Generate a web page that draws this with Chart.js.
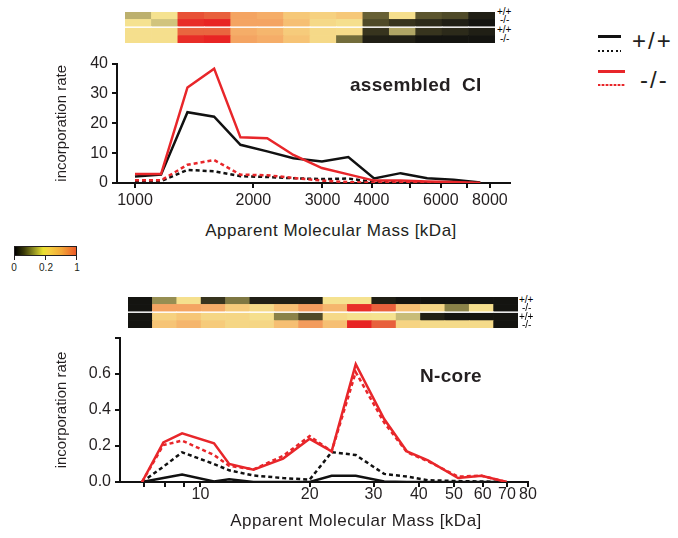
<!DOCTYPE html>
<html lang="en">
<head>
    <meta charset="UTF-8">
    <title>Incorporation rate</title>
    <script src="https://cdn.jsdelivr.net/npm/chart.js"></script>
    <style>
        body {
            margin: 0;
            background: #fff;
            font-family: "Liberation Sans", Arial, sans-serif;
            color: #231f20;
        }
        #page { position: relative; width: 678px; height: 538px; overflow: hidden; }
        canvas, .abs { position: absolute; }
        .xtitle {
            font-size: 17px;
            letter-spacing: 0.5px;
            white-space: nowrap;
            transform: translate(-50%, -50%);
        }
        .panel { font-weight: bold; font-size: 19px; white-space: pre; letter-spacing: 0.3px; }
        .rowlab { font-size: 10px; line-height: 1; color: #000; }
        .leg { font-size: 24px; letter-spacing: 2px; }
        .solid { height: 3px; }
        .dots { height: 2px; }
        .cb { font-size: 10px; transform: translateX(-50%); }
        .cbtick { width: 1px; height: 4px; background: #231f20; }
    </style>
</head>
<body>
<div id="page">
    <canvas id="heatTop" width="370" height="31" style="left:125px; top:12px;"></canvas>
    <canvas id="lineTop" width="530" height="160" style="left:0; top:50px;"></canvas>
    <canvas id="heatBot" width="390" height="31" style="left:128px; top:297px;"></canvas>
    <canvas id="lineBot" width="545" height="200" style="left:0; top:320px;"></canvas>

    <!-- heatmap row labels -->
    <div class="abs rowlab" style="left:497px; top:7px;">+/+</div>
    <div class="abs rowlab" style="left:500px; top:15px;">-/-</div>
    <div class="abs rowlab" style="left:497px; top:25px;">+/+</div>
    <div class="abs rowlab" style="left:500px; top:34px;">-/-</div>
    <div class="abs rowlab" style="left:519px; top:295px;">+/+</div>
    <div class="abs rowlab" style="left:522px; top:303px;">-/-</div>
    <div class="abs rowlab" style="left:519px; top:312px;">+/+</div>
    <div class="abs rowlab" style="left:522px; top:320px;">-/-</div>

    <!-- panel labels and axis titles -->
    <div class="abs panel" style="left:350px; top:74px;">assembled  CI</div>
    <div class="abs panel" style="left:420px; top:365px;">N-core</div>
    <div class="abs xtitle" style="left:331px; top:231px;">Apparent Molecular Mass [kDa]</div>
    <div class="abs xtitle" style="left:356px; top:521px;">Apparent Molecular Mass [kDa]</div>

    <!-- colour bar -->
    <div class="abs" style="left:14px; top:246px; width:63px; height:10px; border:1px solid #231f20; box-sizing:border-box;
        background:linear-gradient(to right, #000 0%, #3a3a08 15%, #8a8a20 30%, #e8e030 46%, #f5d040 56%, #f2a838 76%, #ec5a28 100%);"></div>
    <div class="abs cbtick" style="left:14px; top:256px;"></div>
    <div class="abs cbtick" style="left:45px; top:256px;"></div>
    <div class="abs cbtick" style="left:76px; top:256px;"></div>
    <div class="abs cb" style="left:14px; top:262px;">0</div>
    <div class="abs cb" style="left:46px; top:262px;">0.2</div>
    <div class="abs cb" style="left:77px; top:262px;">1</div>

    <!-- legend -->
    <div class="abs solid" style="left:598px; top:35px; width:23px; background:#111;"></div>
    <div class="abs dots" style="left:598px; top:50px; width:23px; background:repeating-linear-gradient(90deg, #111 0 2px, transparent 2px 4.5px);"></div>
    <div class="abs leg" style="left:632px; top:27px;">+/+</div>
    <div class="abs solid" style="left:598px; top:70px; width:27px; background:#e8262a;"></div>
    <div class="abs dots" style="left:598px; top:84px; width:27px; background:repeating-linear-gradient(90deg, #e8262a 0 2.5px, #f6b0b0 2.5px 4px);"></div>
    <div class="abs leg" style="left:640px; top:66px;">-/-</div>
</div>

<script>
    // assembled CI panel (apparent mass in kDa, one point per gel slice)
    const topMass = [1000, 1165, 1360, 1590, 1855, 2170, 2530, 2990, 3490, 4060, 4740, 5540, 6470, 7560];
    const topWtSolid = [2.2, 2.8, 23.7, 22.2, 12.8, 10.6, 8.3, 7.2, 8.7, 1.5, 3.3, 1.6, 1.1, 0.2];
    const topWtDotted = [0.3, 0.6, 4.4, 3.9, 2.3, 2.0, 1.6, 1.3, 1.5, 0.3, 0.2, 0.1, 0.1, 0];
    const topKoSolid = [3.0, 3.0, 32.0, 38.3, 15.3, 15.0, 9.4, 5.0, 2.9, 0.8, 0.8, 0.5, 0.3, 0];
    const topKoDotted = [0.9, 0.9, 6.1, 7.7, 2.8, 2.6, 1.7, 0.8, 0.3, 0.1, 0.1, 0, 0, 0];
    const topTicks = [1000, 2000, 3000, 4000, 5000, 6000, 7000, 8000];
    const topTickLabels = [1000, 2000, 3000, 4000, 6000, 8000];

    // N-core panel
    const botMass = [6.9, 7.9, 8.9, 10.9, 12.0, 14.0, 16.9, 20.0, 23.0, 26.8, 32.1, 37.1, 42.4, 51.3, 59.6, 69.9];
    const botWtSolid = [0, 0.022, 0.042, 0.003, 0.015, 0, 0, 0, 0.035, 0.035, 0.003, 0, 0, 0, 0, 0];
    const botWtDotted = [0, 0.085, 0.165, 0.10, 0.065, 0.036, 0.022, 0.013, 0.166, 0.15, 0.045, 0.03, 0.01, 0.005, 0.003, 0];
    const botKoSolid = [0, 0.22, 0.27, 0.215, 0.10, 0.068, 0.13, 0.24, 0.17, 0.655, 0.35, 0.17, 0.12, 0.022, 0.035, 0];
    const botKoDotted = [0, 0.205, 0.23, 0.15, 0.09, 0.07, 0.145, 0.255, 0.17, 0.61, 0.33, 0.165, 0.115, 0.03, 0.035, 0];
    const botTicks = [7, 8, 9, 10, 20, 30, 40, 50, 60, 70, 80];
    const botTickLabels = [10, 20, 30, 40, 50, 60, 70, 80];

    // heatmap strips (relative incorporation, 0..1), rows top to bottom: +/+, -/-, +/+, -/-
    const topHeatWtA = [0.14, 0.2, 0.85, 0.8, 0.55, 0.5, 0.35, 0.3, 0.35, 0.07, 0.22, 0.06, 0.05, 0.01];
    const topHeatKoA = [0.2, 0.16, 0.97, 1.0, 0.55, 0.55, 0.4, 0.25, 0.22, 0.05, 0.03, 0.02, 0.01, 0];
    const topHeatWtB = [0.22, 0.22, 0.78, 0.78, 0.5, 0.45, 0.33, 0.25, 0.24, 0.03, 0.13, 0.03, 0.02, 0.01];
    const topHeatKoB = [0.22, 0.22, 0.97, 1.0, 0.55, 0.5, 0.38, 0.25, 0.08, 0.01, 0.01, 0, 0, 0];

    const botHeatWtA = [0, 0.11, 0.21, 0.03, 0.09, 0.01, 0.01, 0.01, 0.2, 0.2, 0.01, 0, 0, 0, 0, 0];
    const botHeatKoA = [0, 0.55, 0.55, 0.5, 0.33, 0.25, 0.4, 0.58, 0.45, 0.97, 0.8, 0.4, 0.27, 0.1, 0.22, 0];
    const botHeatWtB = [0, 0.3, 0.36, 0.27, 0.27, 0.22, 0.1, 0.05, 0.25, 0.21, 0.2, 0.15, 0.01, 0, 0, 0];
    const botHeatKoB = [0, 0.37, 0.45, 0.33, 0.27, 0.27, 0.4, 0.58, 0.4, 1.0, 0.8, 0.28, 0.24, 0.24, 0.24, 0];

    const RED = '#e8262a';
    const BLACK = '#111111';
    const INK = '#231f20';
    const FONT = '"Liberation Sans", Arial, sans-serif';

    // colour map used for the strips
    const cmap = [
        [0, '#141410'], [0.05, '#4f4a28'], [0.1, '#8a8248'], [0.15, '#c8bc78'],
        [0.2, '#f5e290'], [0.35, '#f6c878'], [0.55, '#f4a462'], [0.8, '#e8603c'], [1, '#e82424']
    ];

    function hexToRgb(h) {
        return [1, 3, 5].map(i => parseInt(h.substr(i, 2), 16));
    }

    function colorFor(v) {
        for (let i = 1; i < cmap.length; i++) {
            if (v <= cmap[i][0]) {
                const [v0, c0] = cmap[i - 1];
                const [v1, c1] = cmap[i];
                const t = (v - v0) / (v1 - v0);
                const a = hexToRgb(c0), b = hexToRgb(c1);
                const rgb = a.map((x, k) => Math.round(x + (b[k] - x) * t));
                return 'rgb(' + rgb.join(',') + ')';
            }
        }
        return cmap[cmap.length - 1][1];
    }

    function heatmap(id, rows) {
        const labels = rows[0].map((_, i) => 'slice ' + (i + 1));
        const cell = (row) => ({
            data: row.map(() => 1),
            backgroundColor: row.map(colorFor),
            borderWidth: 0,
            barPercentage: 1,
            categoryPercentage: 1
        });
        // stacked from the bottom up, with a thin white gap between the two pairs
        const datasets = [
            cell(rows[3]),
            cell(rows[2]),
            { data: rows[0].map(() => 0.2), backgroundColor: '#ffffff', borderWidth: 0, barPercentage: 1, categoryPercentage: 1 },
            cell(rows[1]),
            cell(rows[0])
        ];
        new Chart(document.getElementById(id), {
            type: 'bar',
            data: { labels: labels, datasets: datasets },
            options: {
                responsive: false,
                animation: false,
                layout: { padding: 0 },
                plugins: { legend: { display: false }, tooltip: { enabled: false } },
                scales: {
                    x: { display: false, stacked: true },
                    y: { display: false, stacked: true, min: 0, max: 4.2 }
                }
            }
        });
    }

    function pairs(xs, ys) {
        return xs.map((x, i) => ({ x: x, y: ys[i] }));
    }

    function axisStyle() {
        return {
            grid: { drawOnChartArea: false, drawTicks: true, tickLength: 5, color: BLACK, lineWidth: 2 },
            border: { display: true, color: BLACK, width: 2 }
        };
    }

    function lineChart(id, opts) {
        const dash = [4, 3];
        new Chart(document.getElementById(id), {
            type: 'line',
            data: {
                datasets: [
                    { label: '-/-', data: pairs(opts.mass, opts.koSolid), borderColor: RED },
                    { label: '-/- dotted', data: pairs(opts.mass, opts.koDotted), borderColor: RED, borderDash: dash },
                    { label: '+/+', data: pairs(opts.mass, opts.wtSolid), borderColor: BLACK },
                    { label: '+/+ dotted', data: pairs(opts.mass, opts.wtDotted), borderColor: BLACK, borderDash: dash }
                ]
            },
            options: {
                responsive: false,
                animation: false,
                layout: { padding: opts.padding },
                elements: {
                    point: { radius: 0 },
                    line: { tension: 0, borderWidth: 2.5, fill: false }
                },
                plugins: { legend: { display: false }, tooltip: { enabled: false } },
                scales: {
                    x: {
                        type: 'logarithmic',
                        min: opts.xMin,
                        max: opts.xMax,
                        ...axisStyle(),
                        afterBuildTicks: s => { s.ticks = opts.ticks.map(v => ({ value: v })); },
                        afterFit: s => { s.height = opts.xHeight; },
                        ticks: {
                            autoSkip: false,
                            maxRotation: 0,
                            padding: opts.xPad,
                            color: INK,
                            font: { family: FONT, size: 16 },
                            callback: v => opts.tickLabels.includes(v) ? String(v) : ''
                        }
                    },
                    y: {
                        min: 0,
                        max: opts.yMax,
                        ...axisStyle(),
                        afterFit: s => { s.width = opts.yWidth; },
                        ticks: {
                            stepSize: opts.yStep,
                            padding: 4,
                            color: INK,
                            font: { family: FONT, size: 16 },
                            callback: opts.yFormat
                        },
                        title: {
                            display: true,
                            text: 'incorporation rate',
                            color: INK,
                            padding: { top: 9, bottom: 0 },
                            font: { family: FONT, size: 15 }
                        }
                    }
                }
            }
        });
    }

    heatmap('heatTop', [topHeatWtA, topHeatKoA, topHeatWtB, topHeatKoB]);
    heatmap('heatBot', [botHeatWtA, botHeatKoA, botHeatWtB, botHeatKoB]);

    lineChart('lineTop', {
        mass: topMass, wtSolid: topWtSolid, wtDotted: topWtDotted, koSolid: topKoSolid, koDotted: topKoDotted,
        ticks: topTicks, tickLabels: topTickLabels,
        xMin: 900, xMax: 9000, yMax: 40, yStep: 10,
        yFormat: v => String(v),
        padding: { left: 44, right: 20, top: 13, bottom: 0 },
        yWidth: 73, xHeight: 27, xPad: 3
    });

    lineChart('lineBot', {
        mass: botMass, wtSolid: botWtSolid, wtDotted: botWtDotted, koSolid: botKoSolid, koDotted: botKoDotted,
        ticks: botTicks, tickLabels: botTickLabels,
        xMin: 6, xMax: 80, yMax: 0.8, yStep: 0.2,
        yFormat: v => Math.abs(v - 0.8) < 1e-6 ? '' : v.toFixed(1),
        padding: { left: 44, right: 17, top: 18, bottom: 0 },
        yWidth: 76, xHeight: 38, xPad: -2
    });
</script>
</body>
</html>
